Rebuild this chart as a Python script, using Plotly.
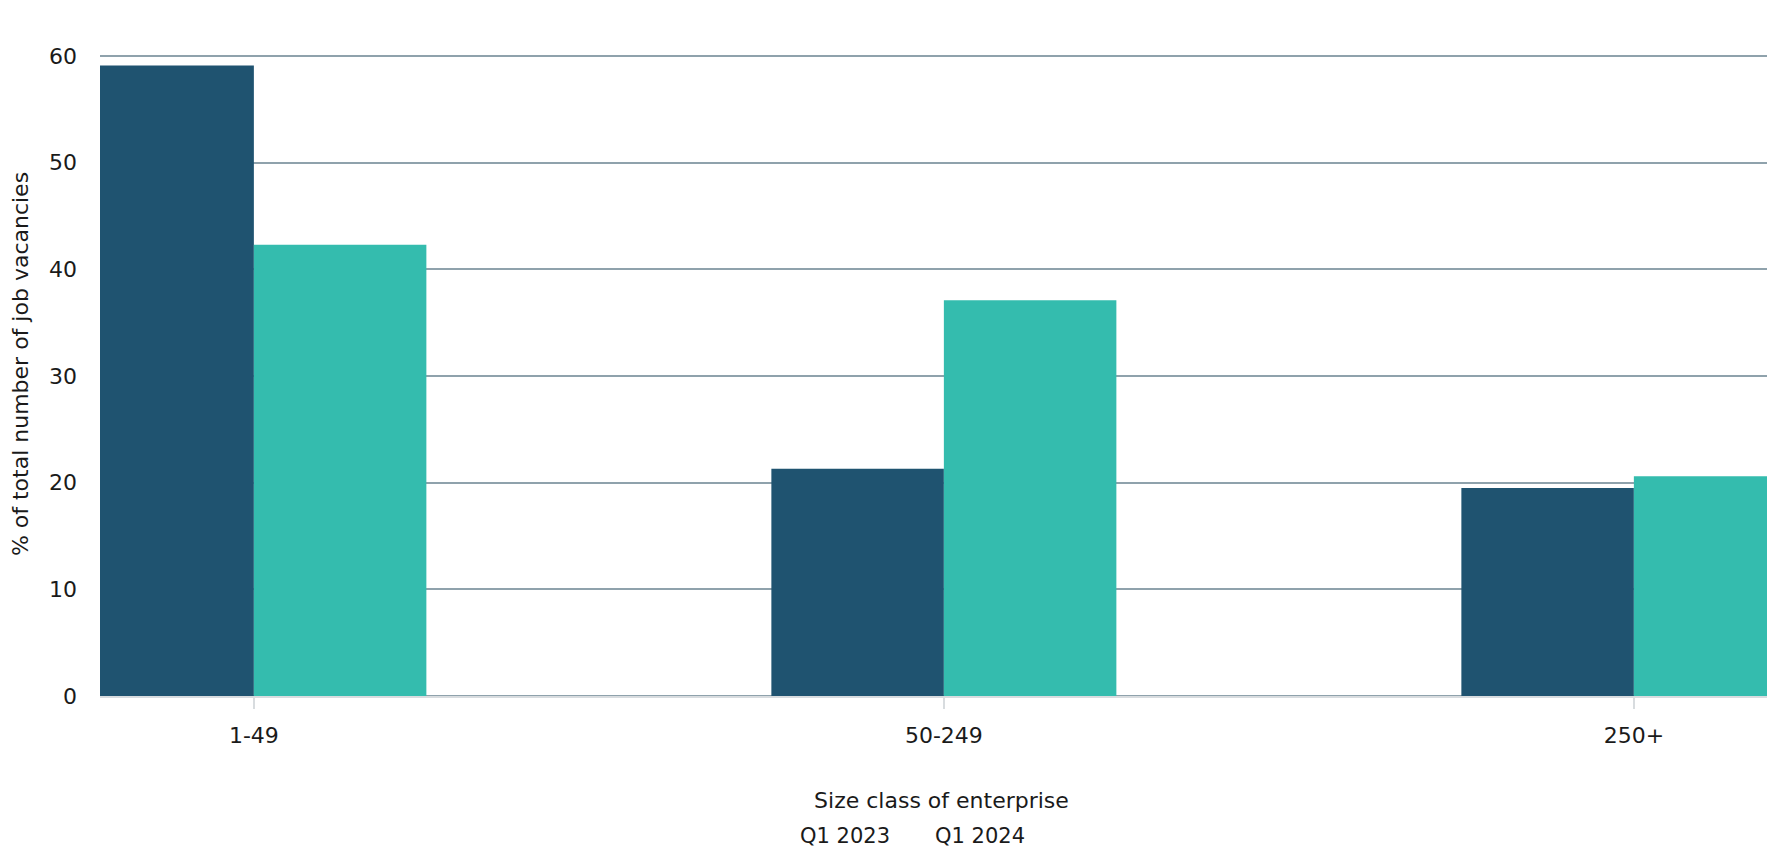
import plotly.graph_objects as go

categories = ["1-49", "50-249", "250+"]
series_names = ["Q1 2023", "Q1 2024"]
q1_2023 = [59.1, 21.3, 19.5]
q1_2024 = [42.3, 37.1, 20.6]
y_ticks = [0, 10, 20, 30, 40, 50, 60]

colors = ["#1F5370", "#34BCAE"]
FONT = "DejaVu Sans"
TXT = "#1a1a1a"

# page has an 8px body margin; plot area spans page x 100..1783, y 32..696
L, T, B = 92, 24, 161
PW = 1775 - L
PH = 849 - T - B

fig = go.Figure()
for name, vals, c in zip(series_names, [q1_2023, q1_2024], colors):
    fig.add_trace(go.Bar(x=categories, y=vals, name=name, marker=dict(color=c, line=dict(width=0)),
                         showlegend=False))

# legend labels (reference shows text only, at the bottom edge)
for name, px in zip(series_names, [800, 935]):
    fig.add_annotation(text=name, xref="paper", yref="paper", x=(px - 100) / PW, y=-(848 - 696) / PH,
                       xanchor="left", yanchor="bottom", showarrow=False, borderpad=0, borderwidth=0,
                       font=dict(family=FONT, size=21, color=TXT))

fig.update_layout(
    width=1775, height=849,
    margin=dict(l=L, r=0, t=T, b=B, autoexpand=False),
    paper_bgcolor="white", plot_bgcolor="white",
    barmode="group", bargap=0.5, bargroupgap=0,
    font=dict(family=FONT, size=20, color=TXT),
)
fig.update_xaxes(
    type="category", range=[-0.223, -0.223 + PW / 690.0],
    showgrid=False, showline=True, linecolor="#D8DCDF", linewidth=2,
    ticks="outside", ticklen=11, tickwidth=2, tickcolor="#D8DCDF",
    ticklabelstandoff=8,
    tickfont=dict(family=FONT, size=22, color=TXT),
    title=dict(text="Size class of enterprise", standoff=45, font=dict(family=FONT, size=22, color=TXT)),
)
fig.update_yaxes(
    range=[0, 62.25], tickvals=y_ticks,
    showgrid=True, gridcolor="#8FA2AC", gridwidth=1.5,
    zeroline=True, zerolinecolor="#8FA2AC", zerolinewidth=1.5,
    showline=False, ticks="", ticklabelstandoff=22,
    tickfont=dict(family=FONT, size=22, color=TXT),
    title=dict(text="% of total number of job vacancies", standoff=14, font=dict(family=FONT, size=22, color=TXT)),
)

fig.write_html("out.html")
